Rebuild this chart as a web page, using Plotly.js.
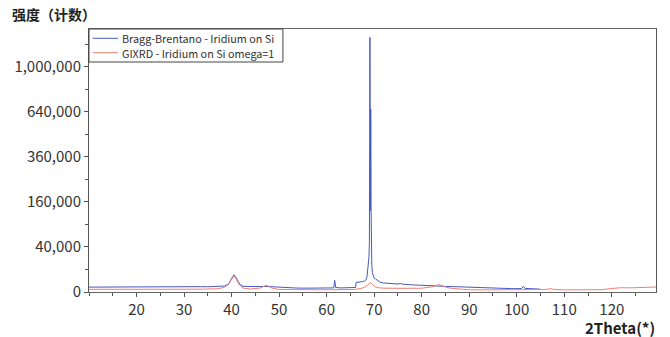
<!DOCTYPE html>
<html>
<head>
<meta charset="utf-8">
<script src="https://cdn.plot.ly/plotly-3.0.1.min.js"></script>
<style>html,body{margin:0;padding:0;background:#fff;}#chart{width:670px;height:337px;}</style>
</head>
<body>
<div id="chart"></div>
<script>
// Bragg-Brentano - Iridium on Si
const bbTheta = [10, 12, 14, 16, 18, 20, 22, 24, 26, 28, 30, 32, 33, 33.5, 35, 37, 38.5, 39.3, 39.8, 40.2, 40.5, 40.8, 41.2, 41.7, 42.4, 44, 46, 47, 48, 50, 52, 54, 56, 58, 60, 61.5, 61.7, 61.9, 63, 65, 66.1, 66.2, 67, 67.5, 68, 68.3, 68.5, 68.6, 68.75, 68.9, 69.0, 69.05, 69.11, 69.15, 69.19, 69.23, 69.27, 69.31, 69.35, 69.4, 69.5, 69.62, 69.8, 70.0, 70.3, 70.7, 71.2, 72, 73, 74, 75, 75.5, 76, 78, 80, 82, 83.5, 85, 87, 89, 91, 93, 95, 97, 99, 101, 101.4, 101.7, 103, 104.9];
const bbCounts = [470, 490, 480, 500, 510, 520, 530, 520, 540, 530, 520, 540, 680, 560, 540, 560, 700, 1200, 2600, 4600, 5880, 4800, 2600, 1200, 620, 560, 580, 620, 560, 420, 330, 300, 290, 300, 310, 330, 2640, 400, 330, 350, 400, 1800, 1900, 2100, 2400, 3000, 4600, 7300, 12000, 24000, 50000, 250000, 1277000, 700000, 130000, 200000, 660000, 560000, 140000, 50000, 15000, 7300, 5000, 3800, 3400, 2500, 1900, 1600, 1450, 1300, 1250, 1400, 1200, 1000, 850, 700, 780, 620, 560, 480, 400, 330, 300, 260, 220, 230, 620, 260, 200, 160];
// GIXRD - Iridium on Si omega=1
const gxTheta = [10, 14, 18, 22, 26, 30, 34, 37, 38.5, 39.3, 39.8, 40.2, 40.5, 40.8, 41.2, 41.7, 42.4, 44, 46, 46.6, 47.2, 47.8, 48.5, 50, 52, 55, 58, 61, 64, 66, 67.5, 68.3, 68.8, 69.2, 69.6, 70.1, 70.8, 72, 75, 78, 80, 82, 83, 83.6, 84.3, 85.2, 86.5, 88, 90, 93, 96, 100, 104, 106, 107, 108, 110, 113, 116, 118, 120, 122, 124, 126, 128, 129.3];
const gxCounts = [140, 130, 135, 140, 145, 150, 160, 200, 420, 1100, 2500, 4000, 4780, 4000, 2200, 900, 300, 180, 300, 600, 857, 650, 300, 130, 110, 100, 100, 105, 110, 130, 300, 600, 1100, 1700, 1200, 600, 360, 290, 270, 260, 280, 500, 900, 1050, 800, 400, 250, 150, 100, 85, 80, 75, 80, 120, 220, 130, 90, 80, 85, 110, 250, 360, 340, 370, 450, 490];
// x axis tick values; y axis (square-root scale) tick values and labels
const xTickVals = [20, 30, 40, 50, 60, 70, 80, 90, 100, 110, 120];
const yTickCounts = [0, 40000, 160000, 360000, 640000, 1000000];
const yTickLabels = ['0', '40,000', '160,000', '360,000', '640,000', '1,000,000'];
const seriesNames = ['Bragg-Brentano - Iridium on Si', 'GIXRD - Iridium on Si omega=1'];
const seriesColors = ['#4659c2', '#f27d72'];

const sq = a => a.map(v => Math.sqrt(v));
const FONT = '"Noto Sans CJK SC", "Noto Sans", sans-serif';

const traces = [
  {x: bbTheta, y: sq(bbCounts), name: seriesNames[0], type: 'scatter', mode: 'lines',
   line: {color: seriesColors[0], width: 1}},
  {x: gxTheta, y: sq(gxCounts), name: seriesNames[1], type: 'scatter', mode: 'lines',
   line: {color: seriesColors[1], width: 1}}
];

// legend drawn in the plot's top-left corner (paper coordinates)
const legRowY = [0.9646, 0.9099];
const shapes = [
  {type: 'rect', xref: 'paper', yref: 'paper', x0: 0, x1: 0.342, y0: 0.8745, y1: 1,
   line: {color: '#444', width: 1}, fillcolor: '#fff', layer: 'above'}
];
const annotations = [];
seriesNames.forEach((n, i) => {
  shapes.push({type: 'line', xref: 'paper', yref: 'paper', x0: 0.0065, x1: 0.0511,
               y0: legRowY[i], y1: legRowY[i], line: {color: seriesColors[i], width: 1}, layer: 'above'});
  annotations.push({text: n, xref: 'paper', yref: 'paper', x: 0.0559, y: legRowY[i],
                    xanchor: 'left', yanchor: 'middle', showarrow: false, borderpad: 0,
                    font: {family: FONT, size: 10.8, color: '#333'}});
});
annotations.push({text: '<b>2Theta(*)</b>', xref: 'paper', yref: 'paper', x: 1, y: -35/263,
                  xanchor: 'right', yanchor: 'middle', showarrow: false, borderpad: 0,
                  font: {family: FONT, size: 15, color: '#222'}});

const layout = {
  width: 670, height: 337,
  margin: {l: 89, r: 14, t: 29, b: 45, pad: 0},
  paper_bgcolor: '#fff', plot_bgcolor: '#fff',
  font: {family: FONT, size: 15, color: '#333'},
  title: {text: '<b>强度（计数）</b>', x: 12/670, xref: 'container', xanchor: 'left',
          y: 1 - 15/337, yref: 'container', yanchor: 'middle',
          font: {family: FONT, size: 14, color: '#222'}},
  showlegend: false,
  xaxis: {range: [10, 129.3], showgrid: false, zeroline: false,
          showline: true, linecolor: '#666', linewidth: 1, mirror: true,
          ticks: 'outside', ticklen: 4, tickcolor: '#555',
          tickmode: 'array', tickvals: xTickVals,
          minor: {tickmode: 'linear', ticks: 'outside', ticklen: 3, tickcolor: '#555', tick0: 0, dtick: 5},
          tickfont: {family: FONT, size: 15, color: '#333'}},
  yaxis: {range: [0, 1167], showgrid: false, zeroline: false,
          showline: true, linecolor: '#555', linewidth: 1, mirror: true,
          ticks: 'outside', ticklen: 4, tickcolor: '#555',
          tickmode: 'array', tickvals: sq(yTickCounts), ticktext: yTickLabels,
          minor: {tickmode: 'linear', ticks: 'outside', ticklen: 3, tickcolor: '#555', tick0: 0, dtick: 100},
          tickfont: {family: FONT, size: 15, color: '#333'}},
  shapes: shapes,
  annotations: annotations
};

Plotly.newPlot('chart', traces, layout, {displayModeBar: false, staticPlot: true});
</script>
</body>
</html>
